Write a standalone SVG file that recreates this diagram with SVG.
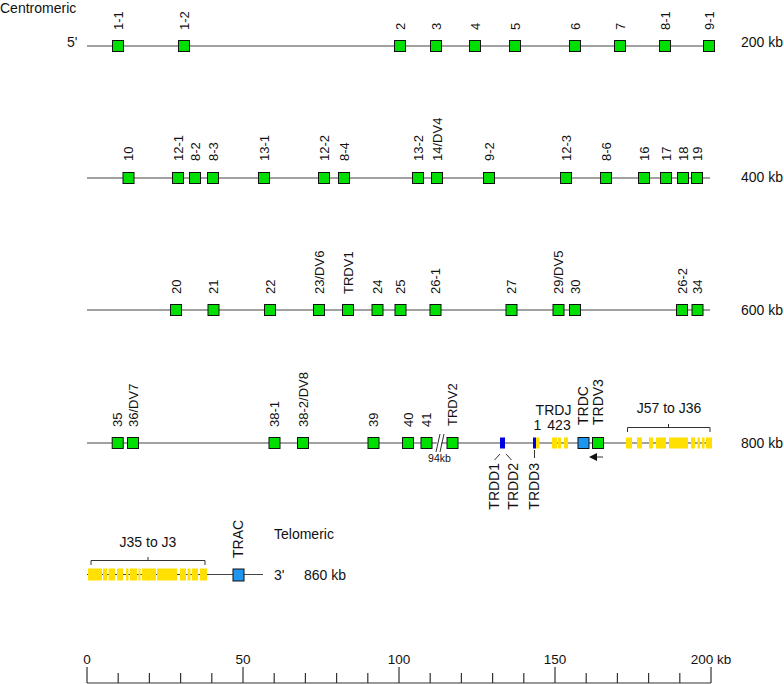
<svg xmlns="http://www.w3.org/2000/svg" width="784" height="684" viewBox="0 0 784 684">
<style>
text{font-family:"Liberation Sans",Arial,sans-serif;fill:#111}
.t{font-size:14px}
.g{font-size:13px}
.s{font-size:13.5px}
.chr{stroke:#444;stroke-width:1.2;fill:none}
.v{fill:#00e000;stroke:#111;stroke-width:1}
.c{fill:#1e96f0;stroke:#111;stroke-width:1}
.d{fill:#0000e0}
.j{fill:#ffe000}
.br{stroke:#333;stroke-width:1;fill:none}
.tk{stroke:#333;stroke-width:1.2}
</style>
<defs>
<rect id="bx" x="-5.5" y="-5.5" width="11" height="11"/>
</defs>
<g id="labels">
<text class="t" x="0" y="12.5">Centromeric</text>
<text class="t" x="67" y="47">5'</text>
<text class="t" x="741" y="47">200 kb</text>
<text class="t" x="741" y="182">400 kb</text>
<text class="t" x="741" y="315">600 kb</text>
<text class="t" x="741" y="448">800 kb</text>
<text class="t" x="274" y="539">Telomeric</text>
<text class="t" x="274" y="580">3'</text>
<text class="t" x="304" y="580">860 kb</text>
</g>
<g id="connectors">
<line class="chr" x1="87" y1="46" x2="709" y2="46"/>
<line class="chr" x1="87" y1="178" x2="710" y2="178"/>
<line class="chr" x1="87" y1="310" x2="710" y2="310"/>
<line class="chr" x1="87" y1="443" x2="712" y2="443"/>
<line class="chr" x1="87" y1="574.5" x2="263" y2="574.5"/>
<line x1="437" y1="452" x2="441" y2="434" stroke="#fff" stroke-width="4"/>
<line class="br" x1="436" y1="452" x2="440" y2="434"/>
<line class="br" x1="440" y1="452" x2="444" y2="434"/>
<line class="br" x1="494.5" y1="460" x2="500" y2="454"/>
<line class="br" x1="506" y1="454" x2="511.5" y2="460"/>
<line class="br" x1="534.5" y1="450" x2="534.5" y2="458"/>
<line class="br" x1="603" y1="457" x2="595" y2="457" stroke-width="1.5"/>
<path d="M589,457 L597,453 L597,461 Z" fill="#111"/>
<path class="br" d="M627.5,432 V427.5 H710 V432 M668.5,427.5 V424"/>
<path class="br" d="M91,565 V560.5 H205 V565 M148,560.5 V557"/>
</g>
<g id="row1">
<g id="v1-1"><use href="#bx" class="v" x="118" y="46"/><text class="g" transform="translate(118,30) rotate(-90)" dy="0.35em">1-1</text></g>
<g id="v1-2"><use href="#bx" class="v" x="184" y="46"/><text class="g" transform="translate(184,30) rotate(-90)" dy="0.35em">1-2</text></g>
<g id="v2"><use href="#bx" class="v" x="400" y="46"/><text class="g" transform="translate(400,30) rotate(-90)" dy="0.35em">2</text></g>
<g id="v3"><use href="#bx" class="v" x="436" y="46"/><text class="g" transform="translate(436,30) rotate(-90)" dy="0.35em">3</text></g>
<g id="v4"><use href="#bx" class="v" x="475" y="46"/><text class="g" transform="translate(475,30) rotate(-90)" dy="0.35em">4</text></g>
<g id="v5"><use href="#bx" class="v" x="515" y="46"/><text class="g" transform="translate(515,30) rotate(-90)" dy="0.35em">5</text></g>
<g id="v6"><use href="#bx" class="v" x="575" y="46"/><text class="g" transform="translate(575,30) rotate(-90)" dy="0.35em">6</text></g>
<g id="v7"><use href="#bx" class="v" x="620" y="46"/><text class="g" transform="translate(620,30) rotate(-90)" dy="0.35em">7</text></g>
<g id="v8-1"><use href="#bx" class="v" x="665" y="46"/><text class="g" transform="translate(665,30) rotate(-90)" dy="0.35em">8-1</text></g>
<g id="v9-1"><use href="#bx" class="v" x="709" y="46"/><text class="g" transform="translate(709,30) rotate(-90)" dy="0.35em">9-1</text></g>
</g>
<g id="row2">
<g id="v10"><use href="#bx" class="v" x="128.5" y="178"/><text class="g" transform="translate(128.5,161) rotate(-90)" dy="0.35em">10</text></g>
<g id="v12-1"><use href="#bx" class="v" x="178" y="178"/><text class="g" transform="translate(178,161) rotate(-90)" dy="0.35em">12-1</text></g>
<g id="v8-2"><use href="#bx" class="v" x="195" y="178"/><text class="g" transform="translate(195,161) rotate(-90)" dy="0.35em">8-2</text></g>
<g id="v8-3"><use href="#bx" class="v" x="213" y="178"/><text class="g" transform="translate(213,161) rotate(-90)" dy="0.35em">8-3</text></g>
<g id="v13-1"><use href="#bx" class="v" x="264" y="178"/><text class="g" transform="translate(264,161) rotate(-90)" dy="0.35em">13-1</text></g>
<g id="v12-2"><use href="#bx" class="v" x="324" y="178"/><text class="g" transform="translate(324,161) rotate(-90)" dy="0.35em">12-2</text></g>
<g id="v8-4"><use href="#bx" class="v" x="344" y="178"/><text class="g" transform="translate(344,161) rotate(-90)" dy="0.35em">8-4</text></g>
<g id="v13-2"><use href="#bx" class="v" x="418" y="178"/><text class="g" transform="translate(418,161) rotate(-90)" dy="0.35em">13-2</text></g>
<g id="v14"><use href="#bx" class="v" x="437" y="178"/><text class="g" transform="translate(437,161) rotate(-90)" dy="0.35em">14/DV4</text></g>
<g id="v9-2"><use href="#bx" class="v" x="489" y="178"/><text class="g" transform="translate(489,161) rotate(-90)" dy="0.35em">9-2</text></g>
<g id="v12-3"><use href="#bx" class="v" x="566" y="178"/><text class="g" transform="translate(566,161) rotate(-90)" dy="0.35em">12-3</text></g>
<g id="v8-6"><use href="#bx" class="v" x="606" y="178"/><text class="g" transform="translate(606,161) rotate(-90)" dy="0.35em">8-6</text></g>
<g id="v16"><use href="#bx" class="v" x="644" y="178"/><text class="g" transform="translate(644,161) rotate(-90)" dy="0.35em">16</text></g>
<g id="v17"><use href="#bx" class="v" x="666" y="178"/><text class="g" transform="translate(666,161) rotate(-90)" dy="0.35em">17</text></g>
<g id="v18"><use href="#bx" class="v" x="683" y="178"/><text class="g" transform="translate(683,161) rotate(-90)" dy="0.35em">18</text></g>
<g id="v19"><use href="#bx" class="v" x="697" y="178"/><text class="g" transform="translate(697,161) rotate(-90)" dy="0.35em">19</text></g>
</g>
<g id="row3">
<g id="v20"><use href="#bx" class="v" x="176" y="310"/><text class="g" transform="translate(176,294) rotate(-90)" dy="0.35em">20</text></g>
<g id="v21"><use href="#bx" class="v" x="213.5" y="310"/><text class="g" transform="translate(213.5,294) rotate(-90)" dy="0.35em">21</text></g>
<g id="v22"><use href="#bx" class="v" x="270" y="310"/><text class="g" transform="translate(270,294) rotate(-90)" dy="0.35em">22</text></g>
<g id="v23"><use href="#bx" class="v" x="319" y="310"/><text class="g" transform="translate(319,294) rotate(-90)" dy="0.35em">23/DV6</text></g>
<g id="trdv1"><use href="#bx" class="v" x="348" y="310"/><text class="g" transform="translate(348,294) rotate(-90)" dy="0.35em">TRDV1</text></g>
<g id="v24"><use href="#bx" class="v" x="377.5" y="310"/><text class="g" transform="translate(377.5,294) rotate(-90)" dy="0.35em">24</text></g>
<g id="v25"><use href="#bx" class="v" x="400.5" y="310"/><text class="g" transform="translate(400.5,294) rotate(-90)" dy="0.35em">25</text></g>
<g id="v26-1"><use href="#bx" class="v" x="435.5" y="310"/><text class="g" transform="translate(435.5,294) rotate(-90)" dy="0.35em">26-1</text></g>
<g id="v27"><use href="#bx" class="v" x="511.5" y="310"/><text class="g" transform="translate(511.5,294) rotate(-90)" dy="0.35em">27</text></g>
<g id="v29"><use href="#bx" class="v" x="558.5" y="310"/><text class="g" transform="translate(558.5,294) rotate(-90)" dy="0.35em">29/DV5</text></g>
<g id="v30"><use href="#bx" class="v" x="575" y="310"/><text class="g" transform="translate(575,294) rotate(-90)" dy="0.35em">30</text></g>
<g id="v26-2"><use href="#bx" class="v" x="682" y="310"/><text class="g" transform="translate(682,294) rotate(-90)" dy="0.35em">26-2</text></g>
<g id="v34"><use href="#bx" class="v" x="697.5" y="310"/><text class="g" transform="translate(697.5,294) rotate(-90)" dy="0.35em">34</text></g>
</g>
<g id="row4">
<g id="v35"><use href="#bx" class="v" x="117.7" y="443"/><text class="g" transform="translate(117.7,427) rotate(-90)" dy="0.35em">35</text></g>
<g id="v36"><use href="#bx" class="v" x="133" y="443"/><text class="g" transform="translate(133,427) rotate(-90)" dy="0.35em">36/DV7</text></g>
<g id="v38-1"><use href="#bx" class="v" x="274.5" y="443"/><text class="g" transform="translate(274.5,427) rotate(-90)" dy="0.35em">38-1</text></g>
<g id="v38-2"><use href="#bx" class="v" x="303" y="443"/><text class="g" transform="translate(303,427) rotate(-90)" dy="0.35em">38-2/DV8</text></g>
<g id="v39"><use href="#bx" class="v" x="373.5" y="443"/><text class="g" transform="translate(373.5,427) rotate(-90)" dy="0.35em">39</text></g>
<g id="v40"><use href="#bx" class="v" x="408" y="443"/><text class="g" transform="translate(408,427) rotate(-90)" dy="0.35em">40</text></g>
<g id="v41"><use href="#bx" class="v" x="426.5" y="443"/><text class="g" transform="translate(426.5,427) rotate(-90)" dy="0.35em">41</text></g>
<text id="gap94" x="439.5" y="462" font-size="10.5" text-anchor="middle">94kb</text>
<g id="trdv2"><use href="#bx" class="v" x="452.5" y="443"/><text class="g" transform="translate(452.5,426) rotate(-90)" dy="0.35em">TRDV2</text></g>
<g id="trdd"><rect class="d" x="500" y="437.5" width="5" height="11"/><rect class="d" x="533" y="437.5" width="3" height="11"/>
<text class="t" transform="translate(494.5,463) rotate(-90)" dy="0.35em" text-anchor="end">TRDD1</text>
<text class="t" transform="translate(513,463) rotate(-90)" dy="0.35em" text-anchor="end">TRDD2</text>
<text class="t" transform="translate(534,463) rotate(-90)" dy="0.35em" text-anchor="end">TRDD3</text></g>
<g id="trdj"><rect class="j" x="536" y="437.5" width="3.5" height="11"/><rect class="j" x="552" y="437.5" width="5" height="11"/><rect class="j" x="558" y="437.5" width="3" height="11"/><rect class="j" x="564" y="437.5" width="4" height="11"/>
<text class="t" x="553.5" y="415" text-anchor="middle">TRDJ</text>
<text class="t" x="537.5" y="430" text-anchor="middle">1</text>
<text class="t" x="559" y="430" text-anchor="middle">423</text></g>
<g id="trdc"><use href="#bx" class="c" x="583.5" y="443"/><text class="t" transform="translate(583.5,425) rotate(-90)" dy="0.35em">TRDC</text></g>
<g id="trdv3"><use href="#bx" class="v" x="598" y="443"/><text class="t" transform="translate(598,425) rotate(-90)" dy="0.35em">TRDV3</text></g>
<g id="j57"><rect class="j" x="626" y="437.5" width="6" height="11"/><rect class="j" x="637" y="437.5" width="5" height="11"/><rect class="j" x="649" y="437.5" width="4" height="11"/><rect class="j" x="656" y="437.5" width="10" height="11"/><rect class="j" x="669" y="437.5" width="19" height="11"/><rect class="j" x="691" y="437.5" width="4" height="11"/><rect class="j" x="697.5" y="437.5" width="2.5" height="11"/><rect class="j" x="702" y="437.5" width="2.5" height="11"/><rect class="j" x="706" y="437.5" width="6" height="11"/>
<text class="t" x="669" y="413" text-anchor="middle">J57 to J36</text></g>
</g>
<g id="row5">
<g id="j35"><rect class="j" x="88" y="568.5" width="14" height="12"/><rect class="j" x="103" y="568.5" width="4" height="12"/><rect class="j" x="108.5" y="568.5" width="6.5" height="12"/><rect class="j" x="117" y="568.5" width="6" height="12"/><rect class="j" x="126" y="568.5" width="2.5" height="12"/><rect class="j" x="130" y="568.5" width="7" height="12"/><rect class="j" x="138.5" y="568.5" width="2" height="12"/><rect class="j" x="142" y="568.5" width="14" height="12"/><rect class="j" x="157" y="568.5" width="20" height="12"/><rect class="j" x="180" y="568.5" width="6" height="12"/><rect class="j" x="187.5" y="568.5" width="3" height="12"/><rect class="j" x="192" y="568.5" width="6" height="12"/><rect class="j" x="200" y="568.5" width="7" height="12"/>
<text class="t" x="148" y="547" text-anchor="middle">J35 to J3</text></g>
<g id="trac"><rect class="c" x="233" y="569" width="11" height="12"/><text class="t" transform="translate(238.5,558) rotate(-90)" dy="0.35em">TRAC</text></g>
</g>
<g id="scale">
<line class="tk" x1="87" y1="683" x2="711" y2="683"/>
<path class="tk" d="M87,667V683 M118.2,673V683 M149.4,673V683 M180.6,673V683 M211.8,673V683 M243,667V683 M274.2,673V683 M305.4,673V683 M336.6,673V683 M367.8,673V683 M399,667V683 M430.2,673V683 M461.4,673V683 M492.6,673V683 M523.8,673V683 M555,667V683 M586.2,673V683 M617.4,673V683 M648.6,673V683 M679.8,673V683 M711,667V683"/>
<text class="s" x="87" y="664" text-anchor="middle">0</text>
<text class="s" x="243" y="664" text-anchor="middle">50</text>
<text class="s" x="399" y="664" text-anchor="middle">100</text>
<text class="s" x="555" y="664" text-anchor="middle">150</text>
<text class="s" x="711" y="664" text-anchor="middle">200 kb</text>
</g>
</svg>
